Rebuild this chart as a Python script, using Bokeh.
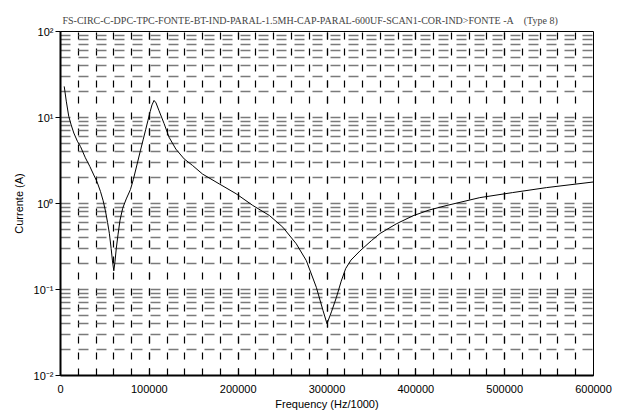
from bokeh.plotting import figure
from bokeh.models import Range1d, FixedTicker, CustomJSTickFormatter, BasicTickFormatter
from bokeh.embed import file_html
from bokeh.resources import INLINE

title_text = "FS-CIRC-C-DPC-TPC-FONTE-BT-IND-PARAL-1.5MH-CAP-PARAL-600UF-SCAN1-COR-IND>FONTE -A\u00a0\u00a0\u00a0\u00a0(Type 8)"
x_label = "Frequency (Hz/1000)"
y_label = "Currente (A)"

x_ticks = [0, 100000, 200000, 300000, 400000, 500000, 600000]
x_minor = [0, 20000, 40000, 60000, 80000, 100000, 120000, 140000, 160000, 180000,
           200000, 220000, 240000, 260000, 280000, 300000, 320000, 340000, 360000,
           380000, 400000, 420000, 440000, 460000, 480000, 500000, 520000, 540000,
           560000, 580000, 600000]
y_ticks = [0.01, 0.1, 1, 10, 100]
y_minor = [0.02, 0.03, 0.04, 0.05, 0.06, 0.07, 0.08, 0.09,
           0.2, 0.3, 0.4, 0.5, 0.6, 0.7, 0.8, 0.9,
           2, 3, 4, 5, 6, 7, 8, 9,
           20, 30, 40, 50, 60, 70, 80, 90]

freq = [4200, 6500, 9300, 12000, 15000, 19000, 22500, 28000, 33000, 37000, 41000,
        45000, 48000, 50600, 53000, 55000, 57000, 58500, 60000, 61300, 62800,
        64800, 67000, 70000, 74000, 78700, 82000, 86000, 89900, 93000, 96000,
        98500, 101000, 103000, 105300, 107500, 110900, 116600, 122200, 129800,
        139200, 148600, 159900, 178700, 197600, 216400, 235200, 250300, 265400,
        276700, 288000, 295500, 300000, 305000, 310600, 316000, 321000, 327000,
        337000, 350000, 359700, 378000, 396800, 415000, 435000, 472000, 509000,
        547000, 600000]
current = [23.0, 15.5, 10.3, 8.2, 6.6, 5.3, 4.6, 3.4, 2.7, 2.2, 1.8,
           1.38, 1.08, 0.82, 0.60, 0.45, 0.30, 0.215, 0.165, 0.21, 0.30,
           0.44, 0.64, 0.88, 1.13, 1.45, 1.9, 2.8, 4.1, 5.5, 7.3,
           9.3, 11.8, 14.0, 15.8, 14.8, 12.0, 8.5, 5.9, 4.3,
           3.3, 2.77, 2.2, 1.69, 1.30, 0.95, 0.725, 0.53, 0.34,
           0.217, 0.106, 0.057, 0.040, 0.055, 0.081, 0.125, 0.175, 0.22,
           0.28, 0.37, 0.448, 0.58, 0.72, 0.84, 0.95, 1.17, 1.34,
           1.53, 1.78]

p = figure(frame_width=533, frame_height=344,
           x_range=Range1d(0, 600000), y_range=Range1d(0.01, 100),
           y_axis_type="log", output_backend="svg", toolbar_location=None,
           min_border_left=60, min_border_right=25, min_border_top=31,
           min_border_bottom=36, background_fill_color="white",
           border_fill_color="white")

p.title.text = title_text
p.title.text_font = "Liberation Serif"
p.title.text_font_size = "10px"
p.title.text_font_style = "normal"
p.title.align = "left"
p.title.offset = 2
p.title.standoff = 12

p.outline_line_color = "black"
p.outline_line_width = 1
p.outline_line_alpha = 1

# x axis
xa = p.xaxis[0]
xa.ticker = FixedTicker(ticks=x_ticks, minor_ticks=x_minor)
xa.formatter = BasicTickFormatter(use_scientific=False)
xa.axis_line_width = 2
xa.axis_line_color = "black"
xa.major_tick_in = 7
xa.major_tick_out = 0
xa.minor_tick_in = 6
xa.minor_tick_out = 0
xa.major_tick_line_color = "black"
xa.minor_tick_line_color = "black"
xa.major_label_standoff = 9
xa.major_label_text_font = "Liberation Sans"
xa.major_label_text_font_size = "11px"
xa.major_label_text_color = "black"
xa.axis_label = x_label
xa.axis_label_text_font = "Liberation Sans"
xa.axis_label_text_font_size = "11px"
xa.axis_label_text_font_style = "normal"
xa.axis_label_text_color = "black"
xa.axis_label_standoff = 2

# y axis
ya = p.yaxis[0]
ya.ticker = FixedTicker(ticks=y_ticks, minor_ticks=y_minor)
ya.formatter = CustomJSTickFormatter(code="""
const e = Math.round(Math.log10(tick));
const sup = {"-2": "\u207b\u00b2", "-1": "\u207b\u00b9", "0": "\u2070", "1": "\u00b9", "2": "\u00b2"};
return "10" + sup[String(e)];
""")
ya.axis_line_width = 2
ya.axis_line_color = "black"
ya.major_tick_in = 0
ya.major_tick_out = 5
ya.major_tick_line_color = "black"
ya.minor_tick_line_color = None
ya.major_label_standoff = 2
ya.major_label_text_font = "Liberation Sans"
ya.major_label_text_font_size = "11px"
ya.major_label_text_color = "black"
ya.axis_label = y_label
ya.axis_label_text_font = "Liberation Sans"
ya.axis_label_text_font_size = "11px"
ya.axis_label_text_font_style = "normal"
ya.axis_label_text_color = "black"
ya.axis_label_standoff = 6

# grids
p.xgrid.grid_line_color = "black"
p.xgrid.grid_line_dash = "7 9"
p.xgrid.grid_line_width = 1.2
p.xgrid.minor_grid_line_color = "black"
p.xgrid.minor_grid_line_dash = "7 9"
p.xgrid.minor_grid_line_width = 1.2

p.ygrid.grid_line_color = "#7a7a7a"
p.ygrid.grid_line_dash = "10 8"
p.ygrid.grid_line_dash_offset = 0
p.ygrid.grid_line_width = 1.4
p.ygrid.minor_grid_line_color = "#7a7a7a"
p.ygrid.minor_grid_line_dash = "10 8"
p.ygrid.minor_grid_line_dash_offset = 0
p.ygrid.minor_grid_line_width = 1.4

p.line(freq, current, line_color="black", line_width=1)

open("out.html", "w").write(file_html(p, INLINE))
